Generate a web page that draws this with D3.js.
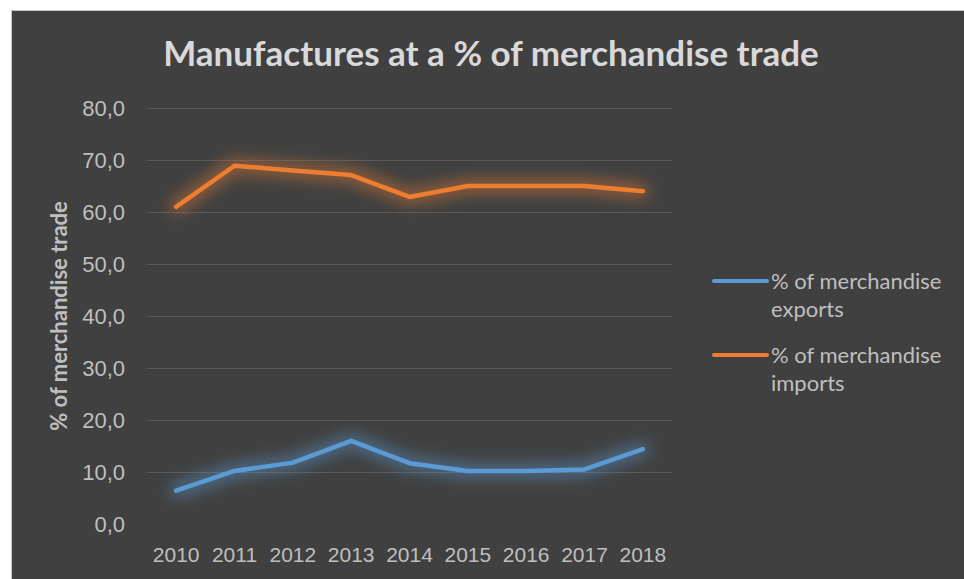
<!DOCTYPE html>
<html>
<head>
<meta charset="utf-8">
<script src="https://cdn.jsdelivr.net/npm/d3@7"></script>
<style>
  html, body { margin: 0; padding: 0; background: #ffffff; }
  svg { display: block; font-family: Lato, "Open Sans", sans-serif; }
</style>
</head>
<body>
<script>
// Chart data.
const years = ["2010", "2011", "2012", "2013", "2014", "2015", "2016", "2017", "2018"];
const exportsPct = [6.4, 10.2, 11.8, 16.0, 11.7, 10.2, 10.2, 10.5, 14.4];
const importsPct = [61.0, 68.9, 68.0, 67.1, 62.9, 65.0, 65.0, 65.0, 64.0];
const yTicks = [0, 10, 20, 30, 40, 50, 60, 70, 80];
const seriesNames = ["% of merchandise exports", "% of merchandise imports"];
const seriesColors = ["#5b9bd5", "#ed7d31"];
const titleText = "Manufactures at a % of merchandise trade";
const yTitle = "% of merchandise trade";

const W = 964, H = 579;
const margin = { top: 108, right: 292, bottom: 55, left: 147 };
const width = 672 - margin.left,
      height = 524 - margin.top;

const svg = d3.select("body").append("svg")
  .attr("width", W)
  .attr("height", H);

// Glow filter for the lines.
const defs = svg.append("defs");
const glow = defs.append("filter")
  .attr("id", "glow")
  .attr("x", "-20%").attr("y", "-60%")
  .attr("width", "140%").attr("height", "220%");
glow.append("feGaussianBlur")
  .attr("in", "SourceGraphic")
  .attr("stdDeviation", 8)
  .attr("result", "blur");
glow.append("feComponentTransfer")
  .attr("in", "blur")
  .attr("result", "faded")
  .append("feFuncA").attr("type", "linear").attr("slope", 0.6);
const merge = glow.append("feMerge");
merge.append("feMergeNode").attr("in", "faded");

// Background panel with thin light border on top and left.
svg.append("rect")
  .attr("x", 11).attr("y", 10)
  .attr("width", W - 11).attr("height", H - 10)
  .attr("fill", "#404040");
svg.append("path")
  .attr("d", `M11.5,${H} V10.5 H${W}`)
  .attr("fill", "none")
  .attr("stroke", "#c8c8c8")
  .attr("stroke-width", 1);

const g = svg.append("g")
  .attr("transform", `translate(${margin.left},${margin.top})`);

const x = d3.scaleBand()
  .domain(years)
  .range([0, width]);

const y = d3.scaleLinear()
  .domain([0, 80])
  .range([height, 0]);

// Gridlines (no line at zero).
g.append("g")
  .selectAll("line")
  .data(yTicks.filter(d => d > 0))
  .enter().append("line")
  .attr("x1", 0)
  .attr("x2", width)
  .attr("y1", d => y(d) + 0.5)
  .attr("y2", d => y(d) + 0.5)
  .attr("stroke", "#595959")
  .attr("stroke-width", 1);

// Y axis labels.
const yAxis = g.append("g")
  .attr("transform", "translate(-19,0)")
  .call(d3.axisLeft(y).tickValues(yTicks).tickSize(0).tickFormat(d => d3.format(".1f")(d).replace(".", ",")));
yAxis.select(".domain").remove();
yAxis.selectAll("text")
  .attr("fill", "#bfbfbf")
  .attr("font-size", "22px")
  .attr("dy", "0.35em");

// X axis labels.
const xAxis = g.append("g")
  .attr("transform", `translate(0,${height})`)
  .call(d3.axisBottom(x).tickSize(0).tickPadding(23));
xAxis.select(".domain").remove();
xAxis.selectAll("text")
  .attr("fill", "#bfbfbf")
  .attr("font-size", "21px");

// Lines.
const line = d3.line()
  .x((d, i) => x(years[i]) + x.bandwidth() / 2)
  .y(d => y(d));

[exportsPct, importsPct].forEach((vals, k) => {
  g.append("path")
    .datum(vals)
    .attr("fill", "none")
    .attr("stroke", seriesColors[k])
    .attr("stroke-width", 12)
    .attr("stroke-linejoin", "round")
    .attr("stroke-linecap", "round")
    .attr("filter", "url(#glow)")
    .attr("d", line);
  g.append("path")
    .datum(vals)
    .attr("fill", "none")
    .attr("stroke", seriesColors[k])
    .attr("stroke-width", 4.5)
    .attr("stroke-linejoin", "round")
    .attr("stroke-linecap", "round")
    .attr("d", line);
});

// Title.
svg.append("text")
  .attr("x", 491)
  .attr("y", 66)
  .attr("text-anchor", "middle")
  .attr("fill", "#d9d9d9")
  .attr("font-size", "35px")
  .attr("font-weight", "bold")
  .text(titleText);

// Y axis title.
svg.append("text")
  .attr("transform", "translate(67,316) rotate(-90)")
  .attr("text-anchor", "middle")
  .attr("fill", "#bfbfbf")
  .attr("font-size", "22px")
  .attr("font-weight", "bold")
  .text(yTitle);

// Legend.
const legend = svg.append("g")
  .attr("transform", "translate(712,281)");
seriesNames.forEach((name, k) => {
  const row = legend.append("g")
    .attr("transform", `translate(0,${k * 74})`);
  row.append("line")
    .attr("x1", 2).attr("x2", 55)
    .attr("y1", 0).attr("y2", 0)
    .attr("stroke", seriesColors[k])
    .attr("stroke-width", 4)
    .attr("stroke-linecap", "round");
  const words = name.split(" ");
  const text = row.append("text")
    .attr("x", 59)
    .attr("y", 0)
    .attr("fill", "#bfbfbf")
    .attr("font-size", "22px");
  text.append("tspan").attr("x", 59).attr("dy", "0.35em").text(words.slice(0, 3).join(" "));
  text.append("tspan").attr("x", 59).attr("dy", "28px").text(words.slice(3).join(" "));
});
</script>
</body>
</html>
